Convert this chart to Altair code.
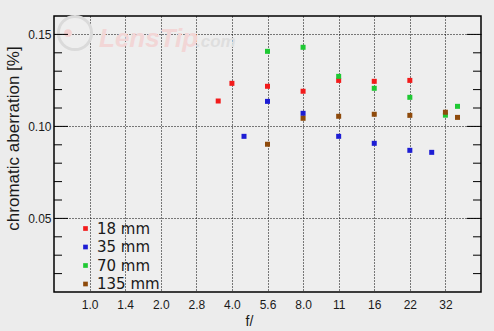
import math
import altair as alt
import pandas as pd

# ---- data ----
stop_labels = ["1.0", "1.4", "2.0", "2.8", "4.0", "5.6", "8.0", "11", "16", "22", "32"]

series_names = ["18 mm", "35 mm", "70 mm", "135 mm"]
series_colors = ["#f21b1b", "#1d1dd4", "#1ec933", "#8e4a0b"]

f_18 = ["3.5", "4.0", "5.6", "8.0", "11", "16", "22"]
v_18 = [0.1138, 0.1234, 0.1218, 0.1191, 0.1250, 0.1245, 0.1250]

f_35 = ["4.5", "5.6", "8.0", "11", "16", "22", "28"]
v_35 = [0.0946, 0.1136, 0.1071, 0.0946, 0.0908, 0.0870, 0.0859]

f_70 = ["5.6", "8.0", "11", "16", "22", "32", "36"]
v_70 = [0.1408, 0.1430, 0.1272, 0.1207, 0.1158, 0.1061, 0.1109]

f_135 = ["5.6", "8.0", "11", "16", "22", "32", "36"]
v_135 = [0.0903, 0.1044, 0.1055, 0.1066, 0.1060, 0.1077, 0.1049]

y_major = [0.05, 0.10, 0.15]
y_minor = [0.02, 0.03, 0.04, 0.06, 0.07, 0.08, 0.09, 0.11, 0.12, 0.13, 0.14]


def stop_pos(f):
    if f in stop_labels:
        return stop_labels.index(f)
    return 2 * math.log2(float(f))


rows = []
for name, fs, vs in zip(series_names, [f_18, f_35, f_70, f_135], [v_18, v_35, v_70, v_135]):
    for f, v in zip(fs, vs):
        rows.append({"lens": name, "f": f, "pos": stop_pos(f), "ca": v})
df = pd.DataFrame(rows)

W, H = 427, 276

xscale = alt.Scale(domain=[-1, 11], nice=False, zero=False)
yscale = alt.Scale(domain=[0.01, 0.16], nice=False, zero=False)

label_arr = "[" + ",".join("'" + s + "'" for s in stop_labels) + "]"

x_axis = alt.Axis(
    values=list(range(len(stop_labels))),
    labelExpr=label_arr + "[datum.value]",
    grid=True, gridColor="#000000", gridDash=[1, 2], gridWidth=1, gridOpacity=1,
    domain=False, ticks=False,
    labelFont="Liberation Sans", labelFontSize=12, labelColor="#1a1a1a", labelPadding=7,
    title="f/", titleFont="Liberation Sans", titleFontSize=14, titleFontWeight="normal",
    titleColor="#1a1a1a", titleX=195, titleY=33, titleBaseline="alphabetic",
)
y_axis = alt.Axis(
    values=y_major, format=".2f",
    grid=True, gridColor="#000000", gridDash=[1, 2], gridWidth=1, gridOpacity=1,
    domain=False, ticks=False,
    labelFont="Liberation Sans", labelFontSize=12, labelColor="#1a1a1a", labelPadding=3,
    title="chromatic aberration [%]", titleFont="Liberation Sans", titleFontSize=17,
    titleFontWeight="normal", titleColor="#1a1a1a", titleAngle=270,
    titleX=-41, titleY=122, titleAlign="center", titleBaseline="middle",
)

points = alt.Chart(df).mark_square(size=25, opacity=1, filled=True).encode(
    x=alt.X("pos:Q", scale=xscale, axis=x_axis),
    y=alt.Y("ca:Q", scale=yscale, axis=y_axis),
    color=alt.Color(
        "lens:N",
        scale=alt.Scale(domain=series_names, range=series_colors),
        legend=alt.Legend(
            title=None, orient="none", legendX=24, legendY=205,
            symbolType="square", symbolSize=22, symbolStrokeWidth=0,
            labelFont="DejaVu Sans", labelFontSize=15, labelColor="#1a1a1a",
            labelOffset=4, rowPadding=2.5, padding=0,
        ),
    ),
    order=alt.Order("lens_order:Q"),
).transform_calculate(
    lens_order="indexof(" + "[" + ",".join("'" + s + "'" for s in series_names) + "]" + ", datum.lens)"
)

tick_major = pd.DataFrame({"v": y_major})
tick_minor = pd.DataFrame({"v": y_minor})

ticks = []
for data, ln in [(tick_major, 14), (tick_minor, 8)]:
    ticks.append(alt.Chart(data).mark_rule(color="#000000", strokeWidth=1).encode(
        y=alt.Y("v:Q", scale=yscale, axis=y_axis),
        x=alt.value(0), x2=alt.value(ln)))
    ticks.append(alt.Chart(data).mark_rule(color="#000000", strokeWidth=1).encode(
        y=alt.Y("v:Q", scale=yscale, axis=y_axis),
        x=alt.value(W - ln), x2=alt.value(W)))

wm = pd.DataFrame({"t": ["LensTip"], "c": [".com"]})
ring = alt.Chart(wm).mark_point(shape="circle", size=1100, filled=False,
                                stroke="#dadada", strokeWidth=3, opacity=1).encode(
    x=alt.value(21), y=alt.value(17))
dot = alt.Chart(wm).mark_point(shape="circle", size=60, filled=True,
                               color="#f2d2d2", opacity=1).encode(
    x=alt.value(14), y=alt.value(17))
wm_text = alt.Chart(wm).mark_text(font="Liberation Sans", fontSize=26, fontStyle="italic",
                                  fontWeight="bold", color="#f2d6d6", align="left",
                                  baseline="alphabetic").encode(
    text="t:N", x=alt.value(45), y=alt.value(31))
wm_com = alt.Chart(wm).mark_text(font="Liberation Sans", fontSize=17, fontStyle="italic",
                                 fontWeight="bold", color="#dedede", align="left",
                                 baseline="alphabetic").encode(
    text="c:N", x=alt.value(142), y=alt.value(31))

chart = alt.layer(ring, dot, wm_text, wm_com, points, *ticks).properties(
    width=W, height=H,
    autosize=alt.AutoSizeParams(type="none"),
    padding={"left": 54, "top": 16, "right": 13, "bottom": 39},
    background="#ececec",
).configure_view(
    fill="#eeeeee", stroke="#000000", strokeWidth=1.5,
)

chart.save("out.html", embed_options={"renderer": "svg", "actions": False})
